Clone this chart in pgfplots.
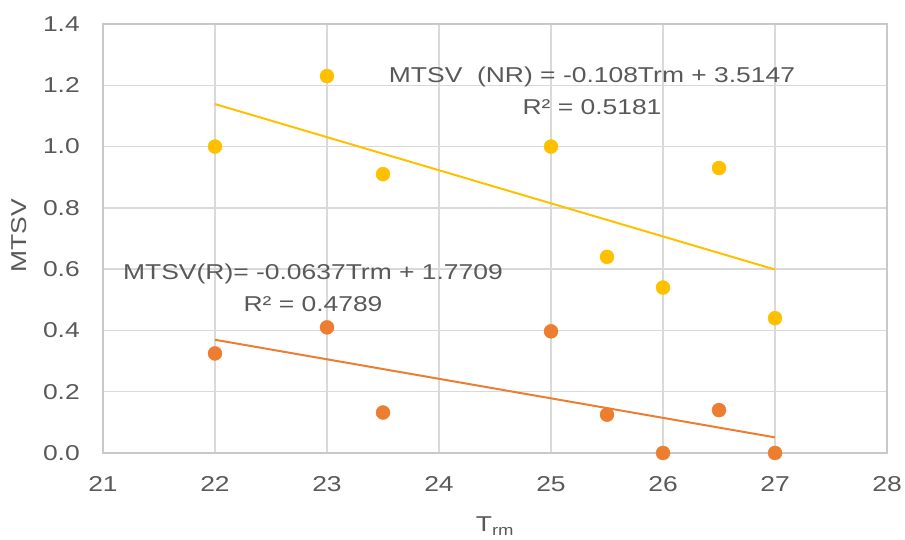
\documentclass[border=0pt]{standalone}
\usepackage{fontspec}
\setmainfont{Liberation Sans}[FakeStretch=1.23]
\usepackage{pgfplots}
\pgfplotsset{compat=1.18}
\definecolor{nr}{HTML}{FFC000}
\definecolor{rr}{HTML}{ED7D31}
\definecolor{txt}{HTML}{595959}
\definecolor{grd}{HTML}{D9D9D9}
\definecolor{axl}{HTML}{C9C9C9}
\begin{document}
\begin{tikzpicture}[x=1pt,y=1pt]
\useasboundingbox (0,0) rectangle (905,540);
\begin{axis}[
  at={(103pt,87pt)}, anchor=south west,
  scale only axis, width=784pt, height=429pt,
  xmin=21, xmax=28, ymin=0, ymax=1.4,
  xtick={21,22,23,24,25,26,27,28},
  ytick={0,0.2,0.4,0.6,0.8,1.0,1.2,1.4},
  grid=major, grid style={grd, line width=1.4pt},
  axis line style={axl, line width=1.4pt},
  major tick length=0pt,
  /pgf/number format/assume math mode=true,
  ticklabel style={font=\fontsize{21.5}{26}\selectfont, text=txt, inner sep=0pt},
  yticklabel style={xshift=-23pt, /pgf/number format/.cd, fixed, fixed zerofill, precision=1},
  xticklabel style={anchor=north, yshift=-23.5pt},
  xlabel={T\textsubscript{rm}},
  xlabel style={at={(axis description cs:0.5,0)}, anchor=base, yshift=-79pt, font=\fontsize{21.5}{26}\selectfont, text=txt, inner sep=0pt},
  ylabel={MTSV},
  ylabel style={at={(axis description cs:-0.107,0.506)}, anchor=center, font=\fontsize{21.5}{26}\selectfont, text=txt, inner sep=0pt},
  clip=false,
]
% trend lines
\addplot[nr, line width=2pt, no marks] coordinates {(22,1.1387) (27,0.5987)};
\addplot[rr, line width=2pt, no marks] coordinates {(22,0.3695) (27,0.0510)};
% NR series
\addplot[only marks, mark=*, mark size=7pt, mark options={fill=nr, draw=nr}] coordinates {
 (22,1.00) (23,1.23) (23.5,0.91) (25,1.00) (25.5,0.64) (26,0.54) (26.5,0.93) (27,0.44)};
% R series
\addplot[only marks, mark=*, mark size=7pt, mark options={fill=rr, draw=rr}] coordinates {
 (22,0.325) (23,0.41) (23.5,0.132) (25,0.397) (25.5,0.125) (26,0.0) (26.5,0.14) (27,0.0)};
% equations
\node[anchor=base, text=txt, font=\fontsize{21.5}{26}\selectfont, inner sep=0pt] at (axis cs:25.366,1.2076) {MTSV~~(NR) = -0.108Trm + 3.5147};
\node[anchor=base, text=txt, font=\fontsize{21.5}{26}\selectfont, inner sep=0pt] at (axis cs:25.366,1.1031) {R² = 0.5181};
\node[anchor=base, text=txt, font=\fontsize{21.5}{26}\selectfont, inner sep=0pt] at (axis cs:22.875,0.5646) {MTSV(R)= -0.0637Trm + 1.7709};
\node[anchor=base, text=txt, font=\fontsize{21.5}{26}\selectfont, inner sep=0pt] at (axis cs:22.875,0.4602) {R² = 0.4789};
\end{axis}
\end{tikzpicture}
\end{document}
